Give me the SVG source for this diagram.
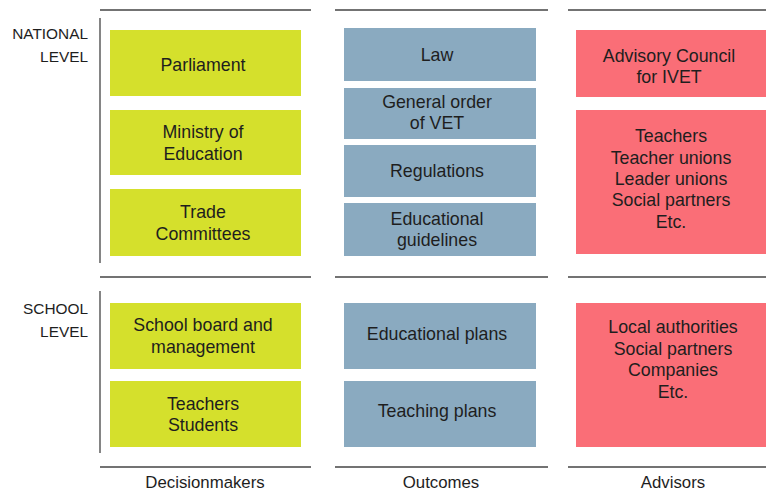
<svg xmlns="http://www.w3.org/2000/svg" width="766" height="491" viewBox="0 0 766 491">
<style>
text{font-family:"Liberation Sans",Arial,sans-serif;fill:#1e1e1e;}
.t{font-size:17.8px;text-anchor:middle;}
.lv{font-size:15.4px;text-anchor:end;}
.ft{font-size:16.8px;text-anchor:middle;}
.y{fill:#d5e02c;}
.b{fill:#8aaac0;}
.r{fill:#fa6e77;}
.hl{stroke:#444;stroke-width:1.6;}
.vl{stroke:#666;stroke-width:1.6;}
</style>
<rect width="766" height="491" fill="#fff"/>
<g id="connectors" fill="none">
<line class="hl" x1="100" y1="10" x2="311" y2="10"/>
<line class="hl" x1="335" y1="10" x2="548" y2="10"/>
<line class="hl" x1="568" y1="10" x2="766" y2="10"/>
<line class="hl" x1="100" y1="277" x2="311" y2="277"/>
<line class="hl" x1="335" y1="277" x2="548" y2="277"/>
<line class="hl" x1="568" y1="277" x2="766" y2="277"/>
<line class="hl" x1="100" y1="467" x2="311" y2="467"/>
<line class="hl" x1="335" y1="467" x2="548" y2="467"/>
<line class="hl" x1="568" y1="467" x2="766" y2="467"/>
<line class="vl" x1="100" y1="18" x2="100" y2="263"/>
<line class="vl" x1="100" y1="291" x2="100" y2="453"/>
</g>
<g id="national-label"><text class="lv" x="88" y="39">NATIONAL</text><text class="lv" x="88" y="62">LEVEL</text></g>
<g id="school-label"><text class="lv" x="88" y="314">SCHOOL</text><text class="lv" x="88" y="337">LEVEL</text></g>
<g id="parliament"><rect class="y" x="110" y="30" width="191" height="66"/><text class="t" x="203" y="71">Parliament</text></g>
<g id="ministry"><rect class="y" x="110" y="110" width="191" height="65"/><text class="t" x="203" y="138">Ministry of</text><text class="t" x="203" y="160">Education</text></g>
<g id="trade"><rect class="y" x="110" y="189" width="191" height="67"/><text class="t" x="203" y="218">Trade</text><text class="t" x="203" y="240">Committees</text></g>
<g id="schoolboard"><rect class="y" x="110" y="303" width="191" height="66"/><text class="t" x="203" y="331">School board and</text><text class="t" x="203" y="353">management</text></g>
<g id="teachers-students"><rect class="y" x="110" y="381" width="191" height="66"/><text class="t" x="203" y="410">Teachers</text><text class="t" x="203" y="431">Students</text></g>
<g id="law"><rect class="b" x="344" y="28" width="192" height="53"/><text class="t" x="437" y="61">Law</text></g>
<g id="general-order"><rect class="b" x="344" y="88" width="192" height="51"/><text class="t" x="437" y="108">General order</text><text class="t" x="437" y="129">of VET</text></g>
<g id="regulations"><rect class="b" x="344" y="145" width="192" height="52"/><text class="t" x="437" y="177">Regulations</text></g>
<g id="guidelines"><rect class="b" x="344" y="203" width="192" height="53"/><text class="t" x="437" y="225">Educational</text><text class="t" x="437" y="246">guidelines</text></g>
<g id="educational-plans"><rect class="b" x="344" y="303" width="192" height="66"/><text class="t" x="437" y="340">Educational plans</text></g>
<g id="teaching-plans"><rect class="b" x="344" y="381" width="192" height="66"/><text class="t" x="437" y="417">Teaching plans</text></g>
<g id="advisory-council"><rect class="r" x="576" y="30" width="190" height="67"/><text class="t" x="669" y="62">Advisory Council</text><text class="t" x="669" y="83">for IVET</text></g>
<g id="national-advisors"><rect class="r" x="576" y="110" width="190" height="144"/><text class="t" x="671" y="142">Teachers</text><text class="t" x="671" y="164">Teacher unions</text><text class="t" x="671" y="185">Leader unions</text><text class="t" x="671" y="206">Social partners</text><text class="t" x="671" y="228">Etc.</text></g>
<g id="school-advisors"><rect class="r" x="576" y="303" width="190" height="144"/><text class="t" x="673" y="333">Local authorities</text><text class="t" x="673" y="355">Social partners</text><text class="t" x="673" y="376">Companies</text><text class="t" x="673" y="398">Etc.</text></g>
<g id="footer"><text class="ft" x="205" y="488">Decisionmakers</text><text class="ft" x="441" y="488">Outcomes</text><text class="ft" x="673" y="488">Advisors</text></g>
</svg>
